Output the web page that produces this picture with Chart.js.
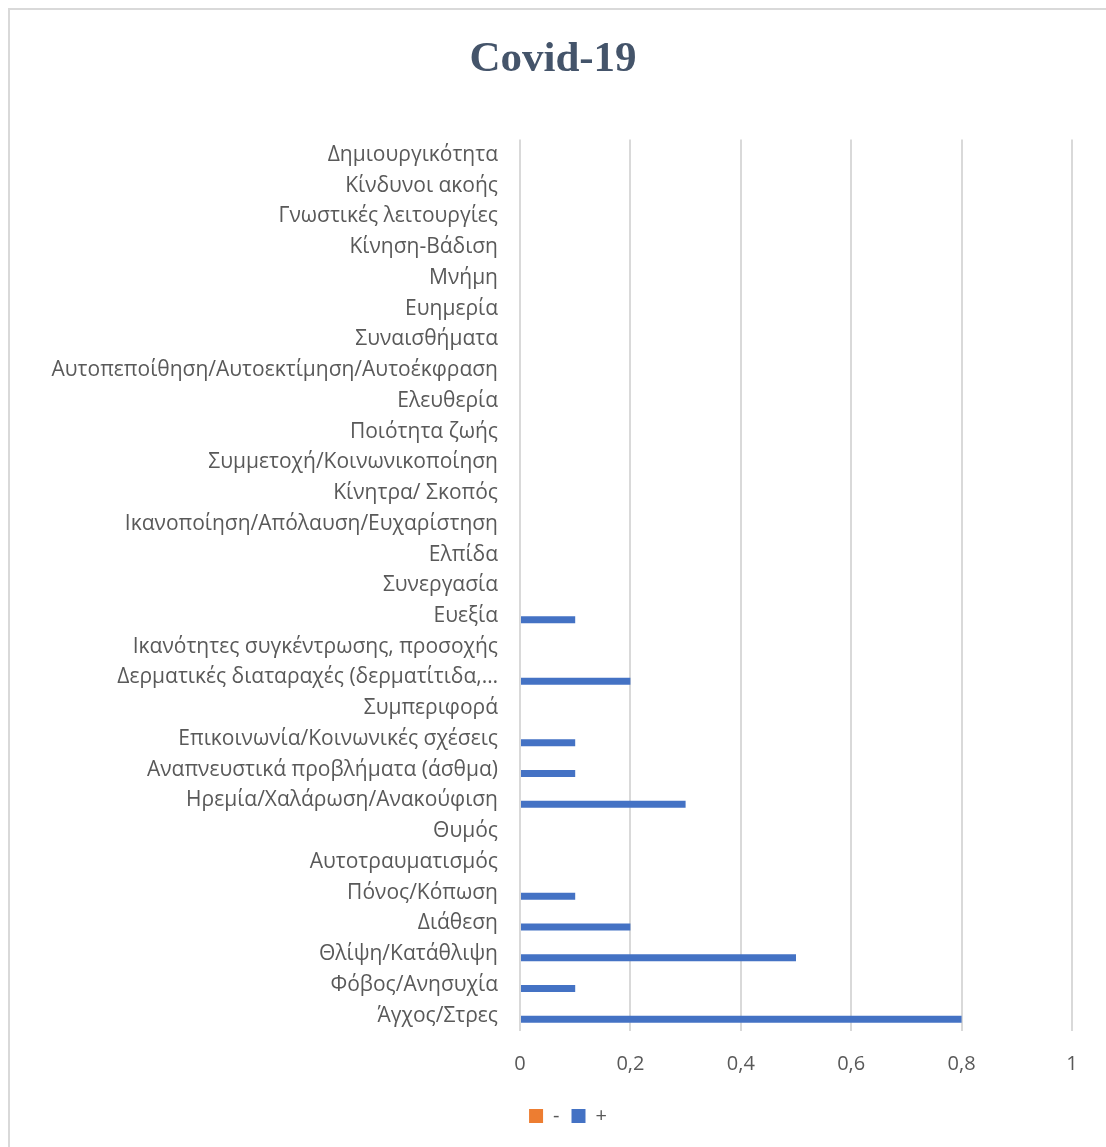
<!DOCTYPE html>
<html>
<head>
<meta charset="utf-8">
<title>Covid-19</title>
<script src="https://cdn.jsdelivr.net/npm/chart.js"></script>
<style>
  html, body { margin:0; padding:0; background:#fff; }
  #frame { position:absolute; left:8px; top:8px; width:1110px; height:1150px; border:2px solid #d9d9d9; box-sizing:border-box; }
  #wrap { position:absolute; left:0; top:0; width:1106px; height:1147px; }
</style>
</head>
<body>
<div id="frame"></div>
<div id="wrap"><canvas id="chart"></canvas></div>
<script>
// categories listed bottom to top, as in the source sheet
const categories = [
  "Άγχος/Στρες",
  "Φόβος/Ανησυχία",
  "Θλίψη/Κατάθλιψη",
  "Διάθεση",
  "Πόνος/Κόπωση",
  "Αυτοτραυματισμός",
  "Θυμός",
  "Ηρεμία/Χαλάρωση/Ανακούφιση",
  "Αναπνευστικά προβλήματα (άσθμα)",
  "Επικοινωνία/Κοινωνικές σχέσεις",
  "Συμπεριφορά",
  "Δερματικές διαταραχές (δερματίτιδα,…",
  "Ικανότητες συγκέντρωσης, προσοχής",
  "Ευεξία",
  "Συνεργασία",
  "Ελπίδα",
  "Ικανοποίηση/Απόλαυση/Ευχαρίστηση",
  "Κίνητρα/ Σκοπός",
  "Συμμετοχή/Κοινωνικοποίηση",
  "Ποιότητα ζωής",
  "Ελευθερία",
  "Αυτοπεποίθηση/Αυτοεκτίμηση/Αυτοέκφραση",
  "Συναισθήματα",
  "Ευημερία",
  "Μνήμη",
  "Κίνηση-Βάδιση",
  "Γνωστικές λειτουργίες",
  "Κίνδυνοι ακοής",
  "Δημιουργικότητα"
];

const minusValues = [0, 0, 0, 0, 0, 0, 0, 0, 0, 0, 0, 0, 0, 0, 0, 0, 0, 0, 0, 0, 0, 0, 0, 0, 0, 0, 0, 0, 0];
const plusValues  = [0.8, 0.1, 0.5, 0.2, 0.1, 0, 0, 0.3, 0.1, 0.1, 0, 0.2, 0, 0.1, 0, 0, 0, 0, 0, 0, 0, 0, 0, 0, 0, 0, 0, 0, 0];

const xTicks = [0, 0.2, 0.4, 0.6, 0.8, 1];

const textColor = "#595959";
const labelFont = { family: "'Open Sans', 'Noto Sans', sans-serif", size: 21 };
const tickFont = { family: "'Open Sans', 'Noto Sans', sans-serif", size: 20 };

// title over the whole width, legend shifted like Excel does
const placeBoxes = {
  id: "placeBoxes",
  afterLayout(chart) {
    const t = chart.titleBlock;
    t.left = 0; t.right = chart.width; t.width = chart.width;
    const l = chart.legend;
    l.left = 30; l.right = chart.width; l.width = chart.width - 30;
  }
};

new Chart(document.getElementById("chart"), {
  type: "bar",
  data: {
    labels: categories,
    datasets: [
      { label: "-", data: minusValues, backgroundColor: "#ED7D31", categoryPercentage: 0.48, barPercentage: 0.95 },
      { label: "+", data: plusValues, backgroundColor: "#4472C4", categoryPercentage: 0.48, barPercentage: 0.95 }
    ]
  },
  plugins: [placeBoxes],
  options: {
    indexAxis: "y",
    responsive: true,
    maintainAspectRatio: false,
    animation: false,
    layout: { padding: { left: 0, right: 34, top: 0, bottom: 11 } },
    plugins: {
      title: {
        display: true,
        text: "Covid-19",
        color: "#44546A",
        font: { family: "'Liberation Serif', serif", size: 43, weight: "bold" },
        padding: { top: 34, bottom: 54 }
      },
      legend: {
        position: "bottom",
        labels: {
          color: textColor,
          font: tickFont,
          boxWidth: 14,
          boxHeight: 14,
          padding: 12
        }
      },
      tooltip: { enabled: false }
    },
    scales: {
      x: {
        min: 0,
        max: 1,
        afterBuildTicks: s => { s.ticks = xTicks.map(v => ({ value: v })); },
        ticks: {
          color: textColor,
          font: tickFont,
          padding: 21,
          callback: v => String(Math.round(v * 10) / 10).replace(".", ",")
        },
        grid: { color: "#d9d9d9", lineWidth: 2, drawTicks: false },
        border: { display: false },
        afterFit: s => { s.height = 63; }
      },
      y: {
        reverse: true,
        ticks: { color: textColor, font: labelFont, autoSkip: false, padding: 22 },
        grid: { display: false, drawTicks: false },
        border: { display: false },
        afterFit: s => { s.width = 520; }
      }
    }
  }
});
</script>
</body>
</html>
